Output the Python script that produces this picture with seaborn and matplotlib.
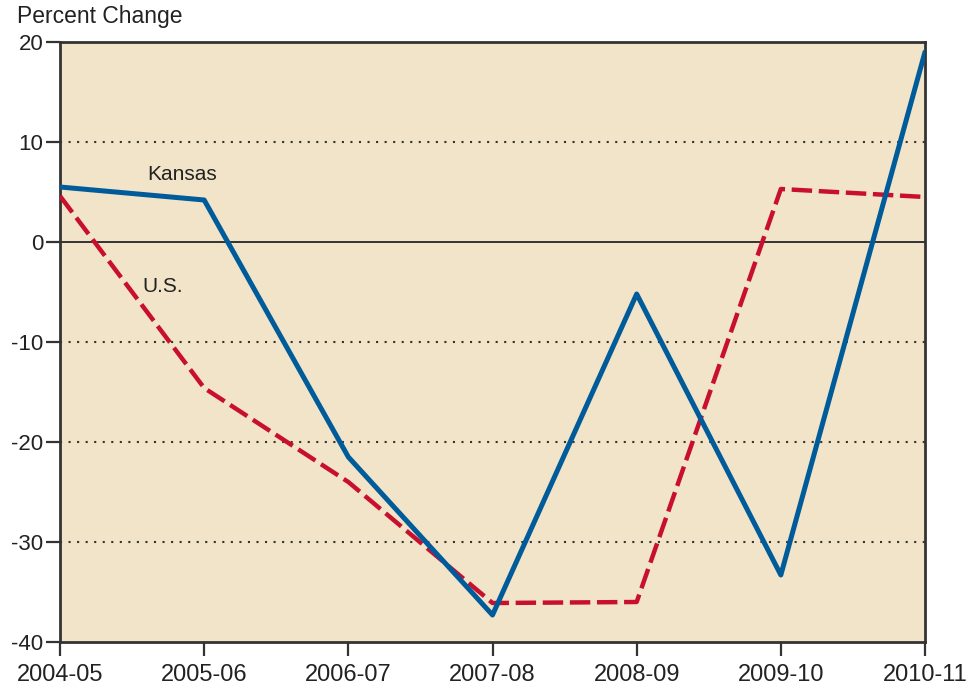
import matplotlib
matplotlib.use("Agg")
import matplotlib.pyplot as plt
import seaborn as sns
import pandas as pd

years = ["2004-05", "2005-06", "2006-07", "2007-08", "2008-09", "2009-10", "2010-11"]
kansas = [5.5, 4.2, -21.5, -37.3, -5.2, -33.3, 19.0]
us = [4.6, -14.6, -24.0, -36.1, -36.0, 5.3, 4.5]
y_ticks = [20, 10, 0, -10, -20, -30, -40]

sns.set_theme(style="white")
plt.rcParams["font.family"] = ["Liberation Sans", "DejaVu Sans"]

df = pd.DataFrame({
    "idx": list(range(len(years))) * 2,
    "value": kansas + us,
    "series": ["Kansas"] * len(years) + ["U.S."] * len(years),
})

fig = plt.figure(figsize=(9.67, 6.93), dpi=100)
ax = fig.add_axes([60 / 967, 1 - 642 / 693, 865 / 967, 600 / 693])
ax.set_facecolor("#f2e4c8")

for y in [10, -10, -20, -30]:
    ax.axhline(y, color="#333333", lw=1.5, linestyle=(0, (1, 3.1)), zorder=1)
ax.axhline(0, color="#333333", lw=1.4, zorder=1)

sns.lineplot(data=df[df.series == "U.S."], x="idx", y="value", ax=ax,
             color="#c8102e", lw=3.2, legend=False, zorder=3)
ax.lines[-1].set_linestyle((0, (4.6, 1.5)))
sns.lineplot(data=df[df.series == "Kansas"], x="idx", y="value", ax=ax,
             color="#005b9a", lw=3.6, legend=False, zorder=4)

ax.set_xlim(0, len(years) - 1)
ax.set_ylim(-40, 20)
ax.set_xticks(range(len(years)))
ax.set_xticklabels(years, fontsize=17)
ax.set_yticks(y_ticks)
ax.set_yticklabels([str(v) for v in y_ticks], fontsize=16)
ax.tick_params(axis="x", bottom=True, length=10, width=1.6, color="#333333",
               labelcolor="#222222", pad=6, direction="out")
ax.tick_params(axis="y", left=True, length=10, width=1.6, color="#333333",
               labelcolor="#222222", pad=2, direction="out")
ax.set_xlabel("")
ax.set_ylabel("")
for s in ax.spines.values():
    s.set_color("#333333")
    s.set_linewidth(2)

ax.text(0.85, 6.8, "Kansas", ha="center", va="center", fontsize=15, color="#222222")
ax.text(0.71, -4.4, "U.S.", ha="center", va="center", fontsize=15, color="#222222")
fig.text(17 / 967, 1 - 17 / 693, "Percent Change", ha="left", va="center",
         fontsize=16.5, color="#222222")

fig.savefig("out.png", dpi=100)
